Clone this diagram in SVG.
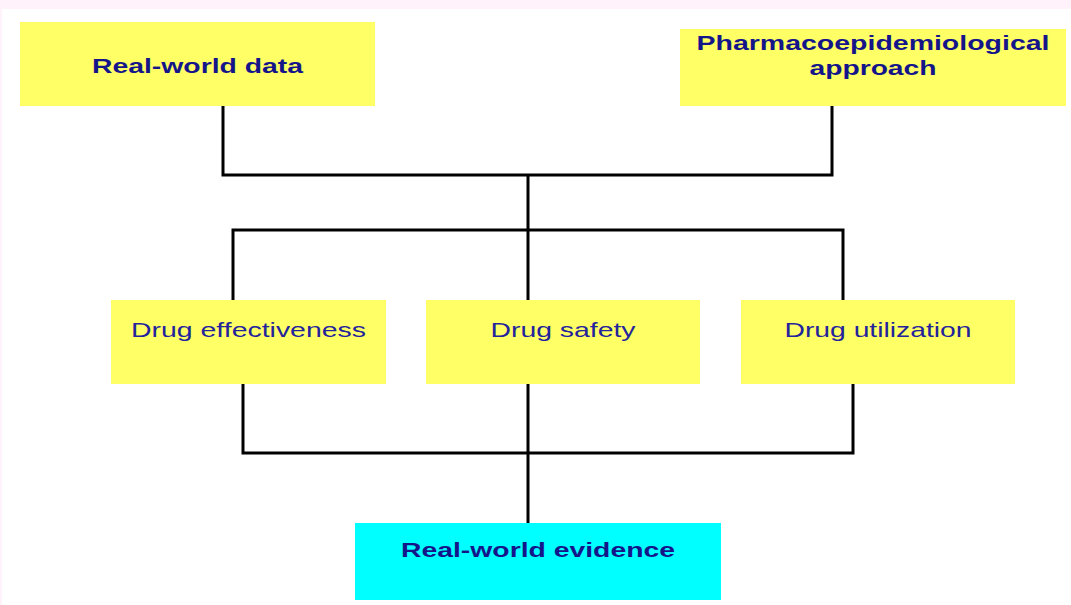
<svg xmlns="http://www.w3.org/2000/svg" width="1071" height="605" viewBox="0 0 1071 605">
<style>
.y{fill:#ffff66}
.c{fill:#00ffff}
.b{font-family:"Liberation Sans",Arial,sans-serif;font-weight:bold;font-size:21px;fill:#15158a;text-anchor:middle}
.n{font-family:"Liberation Sans",Arial,sans-serif;font-size:21px;fill:#23239c;text-anchor:middle}
.l{stroke:#000;stroke-width:3;fill:none;stroke-linecap:square}
</style>
<rect width="1071" height="605" fill="#fff2fa"/>
<rect x="2" y="9" width="1069" height="596" fill="#ffffff"/>
<g id="connectors">
<path class="l" d="M223,106V175M832,106V175M223,175H832M528,175V230M233,230H843M233,230V300M528,230V300M843,230V300"/>
<path class="l" d="M243,384V453M528,384V453M853,384V453M243,453H853M528,453V523"/>
</g>
<g id="rwd">
<rect class="y" x="20" y="22" width="355" height="84"/>
<text class="b" x="197.5" y="73" textLength="211" lengthAdjust="spacingAndGlyphs">Real-world data</text>
</g>
<g id="pharmaco">
<rect class="y" x="680" y="29" width="386" height="77"/>
<text class="b" x="873" y="50" textLength="353" lengthAdjust="spacingAndGlyphs">Pharmacoepidemiological</text>
<text class="b" x="873" y="75" textLength="127" lengthAdjust="spacingAndGlyphs">approach</text>
</g>
<g id="effectiveness">
<rect class="y" x="111" y="300" width="275" height="84"/>
<text class="n" x="248.5" y="337" textLength="235" lengthAdjust="spacingAndGlyphs">Drug effectiveness</text>
</g>
<g id="safety">
<rect class="y" x="426" y="300" width="274" height="84"/>
<text class="n" x="563" y="337" textLength="145" lengthAdjust="spacingAndGlyphs">Drug safety</text>
</g>
<g id="utilization">
<rect class="y" x="741" y="300" width="274" height="84"/>
<text class="n" x="878" y="337" textLength="187" lengthAdjust="spacingAndGlyphs">Drug utilization</text>
</g>
<g id="rwe">
<rect class="c" x="355" y="523" width="366" height="77"/>
<text class="b" x="538" y="557" textLength="274" lengthAdjust="spacingAndGlyphs">Real-world evidence</text>
</g>
</svg>
